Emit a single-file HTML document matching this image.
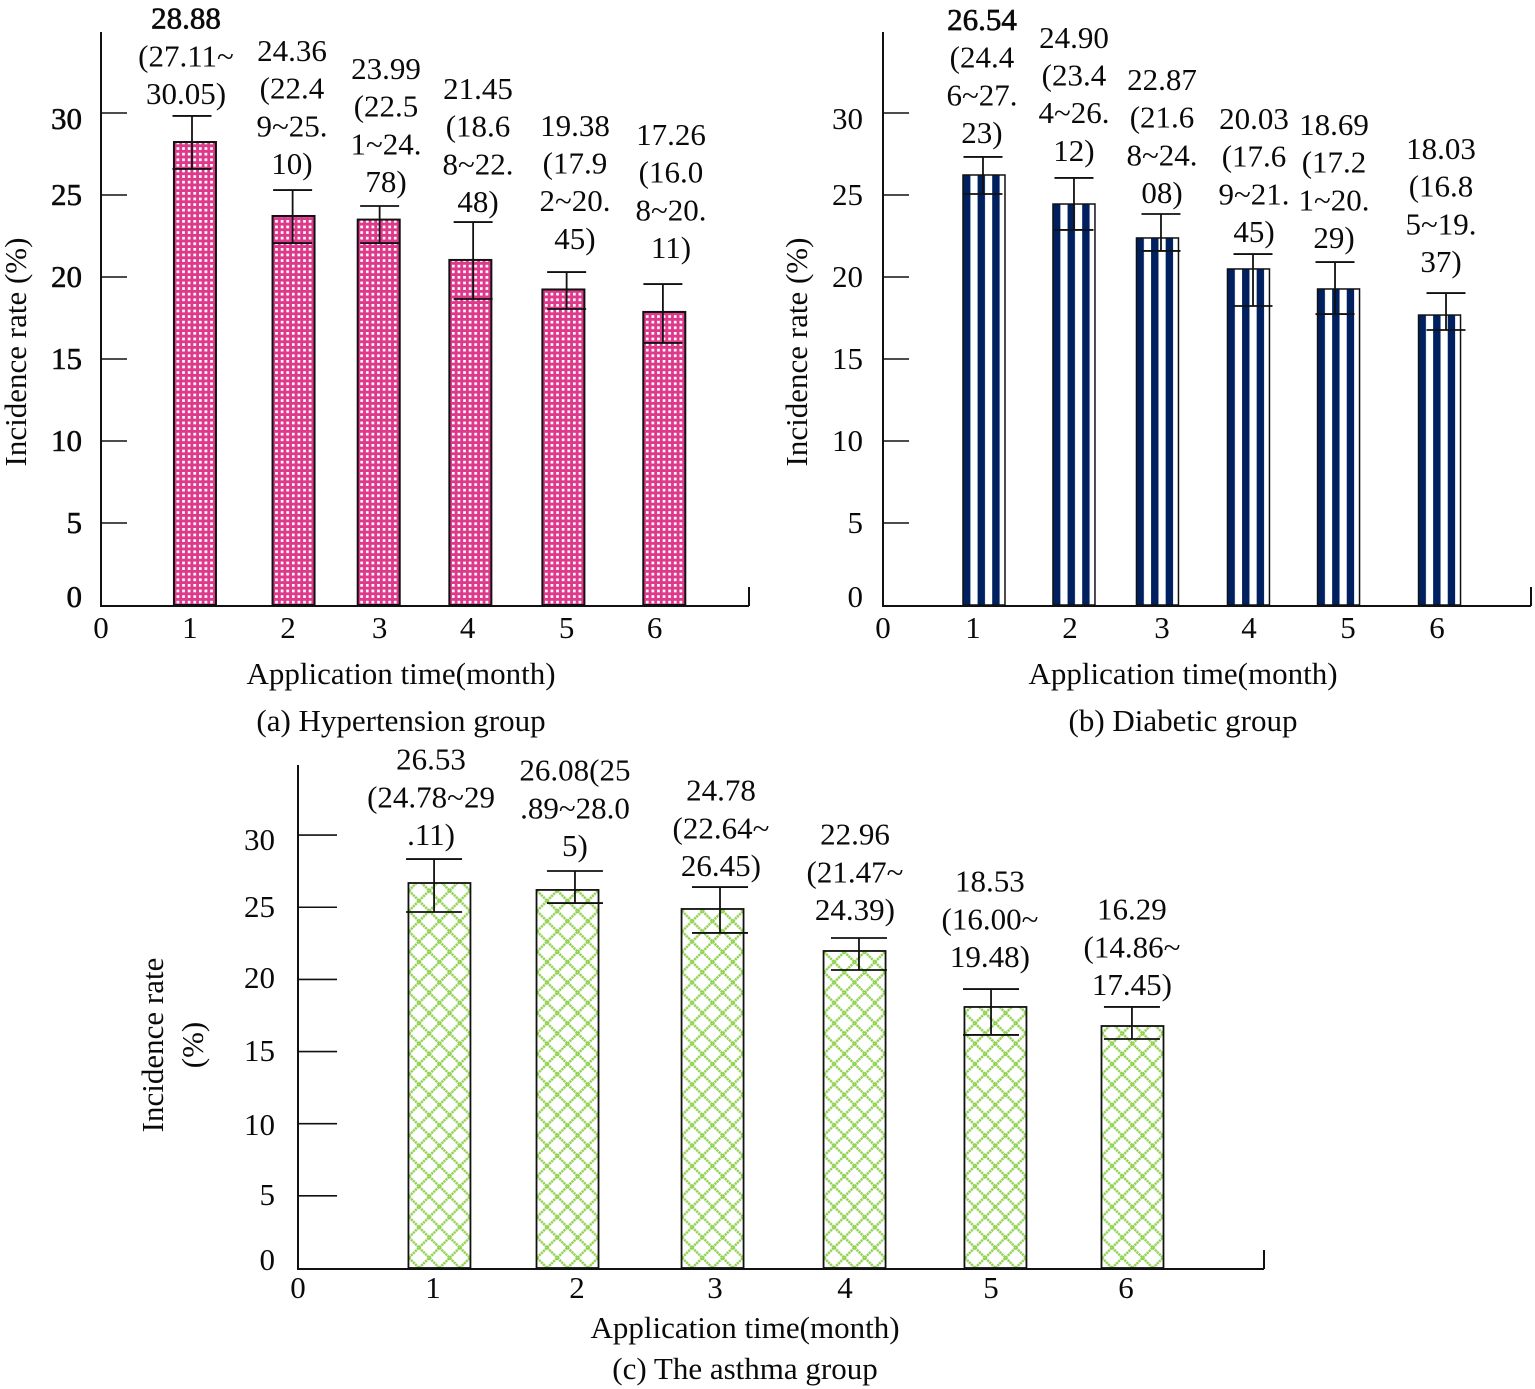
<!DOCTYPE html>
<html lang="en">
<head>
<meta charset="utf-8">
<title>Incidence rate by application time</title>
<style>
html,body{margin:0;padding:0;background:#fff;}
svg{display:block;}
text{font-family:"Liberation Serif",serif;font-size:31px;fill:#0a0a0a;}
</style>
</head>
<body>
<svg id="figure" xmlns="http://www.w3.org/2000/svg" width="1535" height="1389" viewBox="0 0 1535 1389">
<defs id="defs"></defs>
</svg>
<script>
// Shared axis values
const yTickValues = [5, 10, 15, 20, 25, 30];
const yTickLabels = ["0", "5", "10", "15", "20", "25", "30"];
const xTickLabels = ["0", "1", "2", "3", "4", "5", "6"];

// (a) Hypertension group
const aRates = [28.23, 23.72, 23.5, 21.04, 19.24, 17.87];
const aUpper = [29.82, 25.3, 24.33, 23.35, 20.3, 19.57];
const aLower = [26.59, 22.07, 22.07, 18.66, 18.05, 15.98];
const aBarMonth = [1.015, 2.08, 3.0, 3.99, 4.995, 6.085];
const aErrMonth = [0.983, 2.07, 3.01, 4.02, 5.03, 6.07];
const aTickMonth = [0, 0.96, 2.02, 3.01, 3.96, 5.03, 5.98];
const aLabelMonth = [0.918, 2.063, 3.079, 4.073, 5.12, 6.157];
const aLabelLift = [0.67, 0.92, 0.79, 0.55, 1.35, 1.53];
const aYLabelAt = [0.5, 5, 10, 15, 20, 25, 29.63];
const aLabels = [
  ["28.88", "(27.11~", "30.05)"],
  ["24.36", "(22.4", "9~25.", "10)"],
  ["23.99", "(22.5", "1~24.", "78)"],
  ["21.45", "(18.6", "8~22.", "48)"],
  ["19.38", "(17.9", "2~20.", "45)"],
  ["17.26", "(16.0", "8~20.", "11)"]
];

// (b) Diabetic group
const bRates = [26.22, 24.45, 22.38, 20.49, 19.27, 17.68];
const bUpper = [27.32, 26.04, 23.84, 21.4, 20.91, 19.02];
const bLower = [25.06, 22.87, 21.59, 18.23, 17.74, 16.77];
const bBarMonth = [1.091, 2.063, 2.965, 3.948, 4.921, 6.012];
const bErrMonth = [1.08, 2.063, 3.003, 3.997, 4.883, 6.082];
const bTickMonth = [0, 0.972, 2.02, 3.014, 3.954, 5.023, 5.985];
const bLabelMonth = [1.069, 2.063, 3.014, 4.008, 4.872, 6.028];
const bLabelLift = [0.79, 0.98, 0.61, 0.67, 0.79, 1.22];
const bYLabelAt = [0.5, 5, 10, 15, 20, 25, 29.63];
const bLabels = [
  ["26.54", "(24.4", "6~27.", "23)"],
  ["24.90", "(23.4", "4~26.", "12)"],
  ["22.87", "(21.6", "8~24.", "08)"],
  ["20.03", "(17.6", "9~21.", "45)"],
  ["18.69", "(17.2", "1~20.", "29)"],
  ["18.03", "(16.8", "5~19.", "37)"]
];

// (c) The asthma group
const cRates = [26.68, 26.2, 24.88, 21.97, 18.09, 16.77];
const cUpper = [28.34, 27.51, 26.4, 22.87, 19.33, 18.09];
const cLower = [24.67, 25.29, 23.22, 20.65, 16.15, 15.87];
const cBarMonth = [1.025, 1.953, 3.004, 4.033, 5.054, 6.047];
const cErrMonth = [0.986, 2.007, 3.058, 4.065, 5.022, 6.043];
const cTickMonth = [0, 0.978, 2.022, 3.022, 3.964, 5.022, 6.0];
const cLabelMonth = [0.964, 2.007, 3.065, 4.036, 5.014, 6.043];
const cLabelLift = [0.9, 0.97, 0.69, 1.18, 1.46, 0.76];
const cYLabelAt = [0.55, 5.06, 9.91, 15.04, 20.1, 25.02, 29.66];
const cLabels = [
  ["26.53", "(24.78~29", ".11)"],
  ["26.08(25", ".89~28.0", "5)"],
  ["24.78", "(22.64~", "26.45)"],
  ["22.96", "(21.47~", "24.39)"],
  ["18.53", "(16.00~", "19.48)"],
  ["16.29", "(14.86~", "17.45)"]
];

const NS = "http://www.w3.org/2000/svg";
const svg = document.getElementById("figure");
const defs = document.getElementById("defs");

function mk(tag, attrs, parent) {
  const el = document.createElementNS(NS, tag);
  for (const k in attrs) el.setAttribute(k, attrs[k]);
  (parent || svg).appendChild(el);
  return el;
}

function addPattern(kind, id, x, bottom, width) {
  const p = mk("pattern", { id: id, patternUnits: "userSpaceOnUse" }, defs);
  if (kind === "dots") {
    p.setAttribute("width", 5.6);
    p.setAttribute("height", 5.6);
    p.setAttribute("patternTransform", "translate(" + (x + 1.2) + " " + bottom + ")");
    mk("rect", { x: 0, y: 0, width: 5.6, height: 5.6, fill: "#dd3a8c" }, p);
    mk("rect", { x: 1.4, y: 1.4, width: 2.7, height: 2.7, fill: "#ffffff" }, p);
  } else if (kind === "stripes") {
    p.setAttribute("width", 14.6);
    p.setAttribute("height", 10);
    p.setAttribute("patternTransform", "translate(" + x + " 0)");
    mk("rect", { x: 0, y: 0, width: 14.6, height: 10, fill: "#ffffff" }, p);
    mk("rect", { x: 0, y: 0, width: 7.4, height: 10, fill: "#002060" }, p);
  } else {
    p.setAttribute("width", 20.4);
    p.setAttribute("height", 20.4);
    p.setAttribute("patternTransform", "translate(" + (x + width / 2) + " " + bottom + ")");
    mk("rect", { x: 0, y: 0, width: 20.4, height: 20.4, fill: "#ffffff" }, p);
    mk("path", {
      d: "M-2 -2L22.4 22.4M-2 22.4L22.4 -2",
      stroke: "#8fd14f",
      "stroke-width": 2.5,
      "stroke-dasharray": "2.2 0.7",
      fill: "none"
    }, p);
  }
}

function drawPanel(cfg) {
  const g = mk("g", {});
  
  

  const xAt = m => cfg.x0 + m * cfg.xPerMonth;
  const yAt = v => cfg.y0 - v * cfg.yPerUnit;

  // Bars
  cfg.rates.forEach((rate, i) => {
    const bx = xAt(cfg.barMonth[i]) - cfg.barWidth / 2;
    const pid = cfg.name + "-fill-" + i;
    addPattern(cfg.fill, pid, bx, cfg.y0, cfg.barWidth);
    const bar = mk("rect", {
      x: bx,
      y: yAt(rate),
      width: cfg.barWidth,
      height: cfg.y0 - yAt(rate),
      fill: "url(#" + pid + ")",
      stroke: "#111",
      "stroke-width": cfg.barStroke
    }, g);
    
    
  });

  // Error bars
  cfg.upper.forEach((up, i) => {
    const ex = xAt(cfg.errMonth[i]);
    const eg = mk("g", { stroke: "#111", "stroke-width": 1.8, fill: "none" }, g);
    
    
    mk("line", { x1: ex, x2: ex, y1: yAt(up), y2: yAt(cfg.lower[i]) }, eg);
    mk("line", { x1: ex - cfg.capHalf, x2: ex + cfg.capHalf, y1: yAt(up), y2: yAt(up) }, eg);
    mk("line", { x1: ex - cfg.capHalf, x2: ex + cfg.capHalf, y1: yAt(cfg.lower[i]), y2: yAt(cfg.lower[i]) }, eg);
  });

  // Axes
  const axes = mk("g", { stroke: "#111", "stroke-width": 2, fill: "none" }, g);
  
  
  mk("line", { x1: cfg.x0, x2: cfg.x0, y1: cfg.yTop, y2: cfg.y0 + 1 }, axes);
  mk("line", { x1: cfg.x0 - 1, x2: xAt(7), y1: cfg.y0 + 1, y2: cfg.y0 + 1 }, axes);
  mk("line", { x1: xAt(7), x2: xAt(7), y1: cfg.y0 - 18, y2: cfg.y0 + 1 }, axes);
  yTickValues.forEach(v => {
    mk("line", { x1: cfg.x0, x2: cfg.x0 + cfg.tickLen, y1: yAt(v), y2: yAt(v), "stroke-width": 1.6 }, axes);
  });

  // Y tick labels
  yTickLabels.forEach((t, i) => {
    const el = mk("text", { x: cfg.yLabelX, y: yAt(cfg.yLabelAt[i]) + 10, "text-anchor": "end" }, g);
    if (cfg.boldTicks) {
      el.setAttribute("stroke", "#111");
      el.setAttribute("stroke-width", "0.6");
    }
    
    
    el.textContent = t;
  });

  // X tick labels
  xTickLabels.forEach((t, i) => {
    const el = mk("text", { x: xAt(cfg.tickMonth[i]), y: cfg.xLabelY, "text-anchor": "middle" }, g);
    
    
    el.textContent = t;
  });

  // Printed value labels
  cfg.labels.forEach((lines, i) => {
    const lastBase = yAt(cfg.upper[i] + cfg.labelLift[i]) - 1;
    lines.forEach((line, j) => {
      const el = mk("text", {
        x: xAt(cfg.labelMonth[i]),
        y: lastBase - (lines.length - 1 - j) * 37.7,
        "text-anchor": "middle"
      }, g);
      if (cfg.boldFirst && i === 0 && j === 0) {
        el.setAttribute("stroke", "#111");
        el.setAttribute("stroke-width", "0.7");
      }
      
      
      el.textContent = line;
    });
  });

  // Y title
  cfg.yTitle.forEach(tt => {
    const el = mk("text", {
      x: 0, y: 0,
      "text-anchor": "middle",
      transform: "translate(" + tt.x + " " + cfg.yTitleY + ") rotate(-90)"
    }, g);
    
    
    el.textContent = tt.text;
  });

  // X title
  const xt = mk("text", { x: cfg.titleX, y: cfg.xTitleY, "text-anchor": "middle" }, g);
  
  
  xt.textContent = "Application time(month)";

  // Caption
  const cap = mk("text", { x: cfg.titleX, y: cfg.captionY, "text-anchor": "middle" }, g);
  
  
  cap.textContent = cfg.caption;
}

drawPanel({
  name: "hypertension", caption: "(a) Hypertension group", fill: "dots",
  rates: aRates, upper: aUpper, lower: aLower, barMonth: aBarMonth, errMonth: aErrMonth,
  tickMonth: aTickMonth, labelMonth: aLabelMonth, labelLift: aLabelLift, labels: aLabels, yLabelAt: aYLabelAt,
  x0: 101, xPerMonth: 92.57, y0: 605, yPerUnit: 16.4, yTop: 32, tickLen: 26,
  barWidth: 42, barStroke: 2, capHalf: 19.5,
  yLabelX: 82, xLabelY: 638, xTitleY: 684, captionY: 731, titleX: 401,
  yTitle: [{ x: 26, text: "Incidence rate (%)" }], yTitleY: 352,
  boldTicks: true, boldFirst: true
});

drawPanel({
  name: "diabetic", caption: "(b) Diabetic group", fill: "stripes",
  rates: bRates, upper: bUpper, lower: bLower, barMonth: bBarMonth, errMonth: bErrMonth,
  tickMonth: bTickMonth, labelMonth: bLabelMonth, labelLift: bLabelLift, labels: bLabels, yLabelAt: bYLabelAt,
  x0: 883, xPerMonth: 92.57, y0: 605, yPerUnit: 16.4, yTop: 32, tickLen: 26,
  barWidth: 42, barStroke: 1.5, capHalf: 19.5,
  yLabelX: 863, xLabelY: 638, xTitleY: 684, captionY: 731, titleX: 1183,
  yTitle: [{ x: 807, text: "Incidence rate (%)" }], yTitleY: 352,
  boldTicks: false, boldFirst: true
});

drawPanel({
  name: "asthma", caption: "(c) The asthma group", fill: "lattice",
  rates: cRates, upper: cUpper, lower: cLower, barMonth: cBarMonth, errMonth: cErrMonth,
  tickMonth: cTickMonth, labelMonth: cLabelMonth, labelLift: cLabelLift, labels: cLabels, yLabelAt: cYLabelAt,
  x0: 298, xPerMonth: 138, y0: 1268, yPerUnit: 14.43, yTop: 765, tickLen: 39,
  barWidth: 62, barStroke: 1.8, capHalf: 28,
  yLabelX: 275, xLabelY: 1298, xTitleY: 1338, captionY: 1379, titleX: 745,
  yTitle: [{ x: 163, text: "Incidence rate" }, { x: 203, text: "(%)" }], yTitleY: 1045,
  boldTicks: false, boldFirst: false
});
</script>
</body>
</html>
